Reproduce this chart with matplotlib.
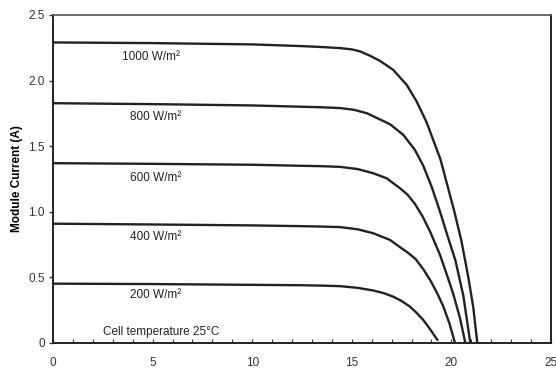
import numpy as np
import matplotlib.pyplot as plt
from matplotlib.ticker import MultipleLocator

plt.rcParams['font.family'] = ['Liberation Sans', 'DejaVu Sans']

# I-V curves of the module, (voltage V, current A) per irradiance level
v_1000 = [0, 5, 10, 12.5, 13.5, 14.41, 15.0, 15.41, 15.9, 16.42, 17.08, 17.76, 18.26, 18.76, 19.45, 20.15, 20.5, 20.85, 21.1, 21.3]
i_1000 = [2.29, 2.285, 2.275, 2.262, 2.255, 2.247, 2.237, 2.222, 2.19, 2.149, 2.081, 1.966, 1.839, 1.68, 1.40, 1.0, 0.78, 0.5, 0.27, 0.0]

v_800 = [0, 5, 10, 12.5, 13.5, 14.41, 15.1, 15.75, 16.92, 17.59, 18.17, 18.59, 19.01, 19.43, 19.84, 20.2, 20.6, 20.95]
i_800 = [1.827, 1.82, 1.81, 1.80, 1.796, 1.790, 1.777, 1.751, 1.667, 1.585, 1.471, 1.35, 1.19, 1.0, 0.80, 0.63, 0.36, 0.0]

v_600 = [0, 5, 10, 12.5, 13.5, 14.41, 15.3, 16.08, 16.75, 17.42, 17.8, 18.17, 18.55, 18.93, 19.43, 19.84, 20.1, 20.43, 20.7]
i_600 = [1.37, 1.365, 1.358, 1.35, 1.347, 1.342, 1.325, 1.293, 1.255, 1.179, 1.13, 1.06, 0.965, 0.849, 0.671, 0.49, 0.37, 0.19, 0.0]

v_400 = [0, 5, 10, 12.5, 13.5, 14.41, 15.3, 16.08, 16.92, 17.42, 17.8, 18.2, 18.6, 18.97, 19.3, 19.59, 19.9, 20.18]
i_400 = [0.909, 0.903, 0.896, 0.89, 0.887, 0.883, 0.866, 0.836, 0.785, 0.73, 0.69, 0.64, 0.56, 0.47, 0.375, 0.28, 0.15, 0.0]

v_200 = [0, 5, 10, 12.5, 13.5, 14.41, 15.3, 16.08, 16.6, 17.08, 17.5, 17.92, 18.25, 18.59, 18.84, 19.3]
i_200 = [0.452, 0.449, 0.443, 0.44, 0.437, 0.433, 0.42, 0.40, 0.38, 0.353, 0.32, 0.277, 0.23, 0.175, 0.124, 0.023]

curve_labels = ['1000 W/m²', '800 W/m²', '600 W/m²', '400 W/m²', '200 W/m²']
label_pos = [(4.9, 2.18), (5.15, 1.72), (5.15, 1.257), (5.15, 0.81), (5.15, 0.366)]

fig = plt.figure(figsize=(5.56, 3.72), dpi=100)
ax = fig.add_axes([0.0953, 0.078, 0.8957, 0.882])

curves = [(v_1000, i_1000), (v_800, i_800), (v_600, i_600), (v_400, i_400), (v_200, i_200)]
for v, i in curves:
    ax.plot(v, i, color='#222222', lw=1.7, solid_capstyle='round', solid_joinstyle='round')

for text, (x, y) in zip(curve_labels, label_pos):
    ax.text(x, y, text, ha='center', va='center', fontsize=8.5, color='#222222')

ax.text(2.5, 0.084, 'Cell temperature 25°C', ha='left', va='center', fontsize=8.5, color='#222222')

ax.set_xlim(0, 25)
ax.set_ylim(0, 2.5)
ax.xaxis.set_major_locator(MultipleLocator(5))
ax.xaxis.set_minor_locator(MultipleLocator(1))
ax.set_yticks([0, 0.5, 1.0, 1.5, 2.0, 2.5])
ax.set_yticklabels(['0', '0.5', '1.0', '1.5', '2.0', '2.5'])

ax.tick_params(axis='x', which='both', direction='in', length=3, width=0.8,
               pad=10, labelsize=8.5, colors='#333333')
ax.tick_params(axis='y', direction='out', length=3, width=1.0, pad=3,
               labelsize=8.5, colors='#333333')

for side in ['left', 'bottom', 'right']:
    ax.spines[side].set_color('#222222')
    ax.spines[side].set_linewidth(1.4)
ax.spines['top'].set_color('#555555')
ax.spines['top'].set_linewidth(1.2)

ax.set_ylabel('Module Current (A)', fontsize=8.5, fontweight='bold', labelpad=4)

fig.savefig('out.png', dpi=100)
